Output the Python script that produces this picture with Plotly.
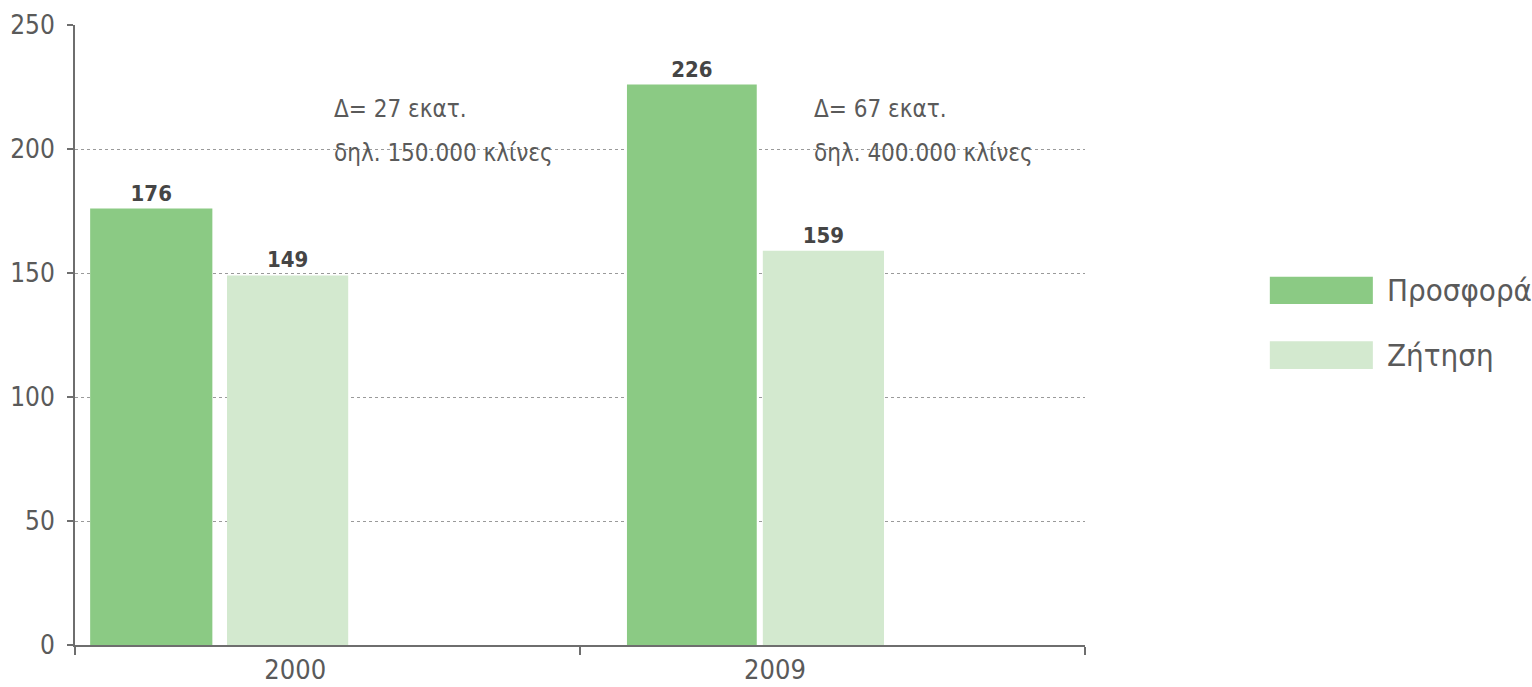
import plotly.graph_objects as go

# Data: hotel beds supply vs. demand (millions of bed-nights)
years = ["2000", "2009"]
supply = [176, 226]      # Προσφορά
demand = [149, 159]      # Ζήτηση
beds_text = ["150.000", "400.000"]

series_names = ["Προσφορά", "Ζήτηση"]
y_ticks = [0, 50, 100, 150, 200, 250]

# Styling
DARK_GREEN = "#8bca84"
LIGHT_GREEN = "#d3e9cf"
AXIS_GREY = "#6e6e6e"
TEXT_GREY = "#5a5a5a"
FONT = "DejaVu Sans Condensed, Open Sans, sans-serif"

x_pos = list(range(len(years)))
# bar placement inside each category (left edge offset and width, in category units)
supply_offset = [-0.470, -0.407]
supply_width = [0.242, 0.257]
demand_offset = [-0.199, -0.138]
demand_width = [0.240, 0.240]
label_shift = [-0.064, -0.114]

fig = go.Figure()
fig.add_trace(go.Bar(
    x=x_pos, y=supply, name=series_names[0],
    offset=supply_offset, width=supply_width,
    marker=dict(color=DARK_GREEN, line=dict(width=0)),
    text=[str(v) for v in supply], textposition="outside",
    textfont=dict(family=FONT, size=22, color="#454545"),
    texttemplate="<b>%{text}</b>", cliponaxis=False, showlegend=False,
))
fig.add_trace(go.Bar(
    x=x_pos, y=demand, name=series_names[1],
    offset=demand_offset, width=demand_width,
    marker=dict(color=LIGHT_GREEN, line=dict(width=0)),
    text=[str(v) for v in demand], textposition="outside",
    textfont=dict(family=FONT, size=22, color="#454545"),
    texttemplate="<b>%{text}</b>", cliponaxis=False, showlegend=False,
))

# Difference notes next to each pair of bars
for i, yr in enumerate(years):
    diff = supply[i] - demand[i]
    x_note = x_pos[i] + [0.009, -0.04][i]
    fig.add_annotation(x=x_note, y=216, xref="x", yref="y", xanchor="left",
                       yanchor="middle", showarrow=False,
                       text=f"Δ= {diff} εκατ.",
                       font=dict(family=FONT, size=24, color=TEXT_GREY))
    fig.add_annotation(x=x_note, y=198.5, xref="x", yref="y", xanchor="left",
                       yanchor="middle", showarrow=False,
                       text=f"δηλ. {beds_text[i]} κλίνες",
                       font=dict(family=FONT, size=24, color=TEXT_GREY))

# Legend drawn as large swatches with labels
legend_rows = [(0.594, 0.550), (0.490, 0.445)]
for (y_top, y_bot), name, col in zip(legend_rows, series_names, [DARK_GREEN, LIGHT_GREEN]):
    fig.add_shape(type="rect", xref="paper", yref="paper",
                  x0=1.183, x1=1.285, y0=y_bot, y1=y_top,
                  fillcolor=col, line=dict(width=0))
    fig.add_annotation(x=1.297, y=(y_top + y_bot) / 2, xref="paper", yref="paper",
                       xanchor="left", yanchor="middle", showarrow=False,
                       text=name, font=dict(family=FONT, size=31, color=TEXT_GREY))

fig.update_layout(
    width=1532, height=687,
    margin=dict(l=75, r=447, t=25, b=42),
    paper_bgcolor="white", plot_bgcolor="white",
    barmode="overlay", showlegend=False,
    font=dict(family=FONT, color=TEXT_GREY),
    xaxis=dict(
        range=[-0.5, 1.5], automargin=False,
        tickmode="array",
        tickvals=[p + s for p, s in zip(x_pos, label_shift)],
        ticktext=years, ticks="",
        tickfont=dict(family=FONT, size=27, color=TEXT_GREY),
        showgrid=False, zeroline=False,
        showline=True, linecolor=AXIS_GREY, linewidth=2,
        minor=dict(tickmode="array", tickvals=[-0.5, 0.5, 1.5], ticks="outside",
                   ticklen=8, tickwidth=1.5, tickcolor=AXIS_GREY, showgrid=False),
    ),
    yaxis=dict(
        range=[0, 250], automargin=False,
        tickmode="array", tickvals=y_ticks,
        ticks="outside", ticklen=6, tickwidth=1.5, tickcolor=AXIS_GREY,
        ticklabelstandoff=7,
        tickfont=dict(family=FONT, size=26, color=TEXT_GREY),
        showgrid=True, gridcolor="#9a9a9a", gridwidth=1, griddash="3px,3px",
        zeroline=False,
        showline=True, linecolor=AXIS_GREY, linewidth=2,
    ),
)

fig.write_html("out.html")
